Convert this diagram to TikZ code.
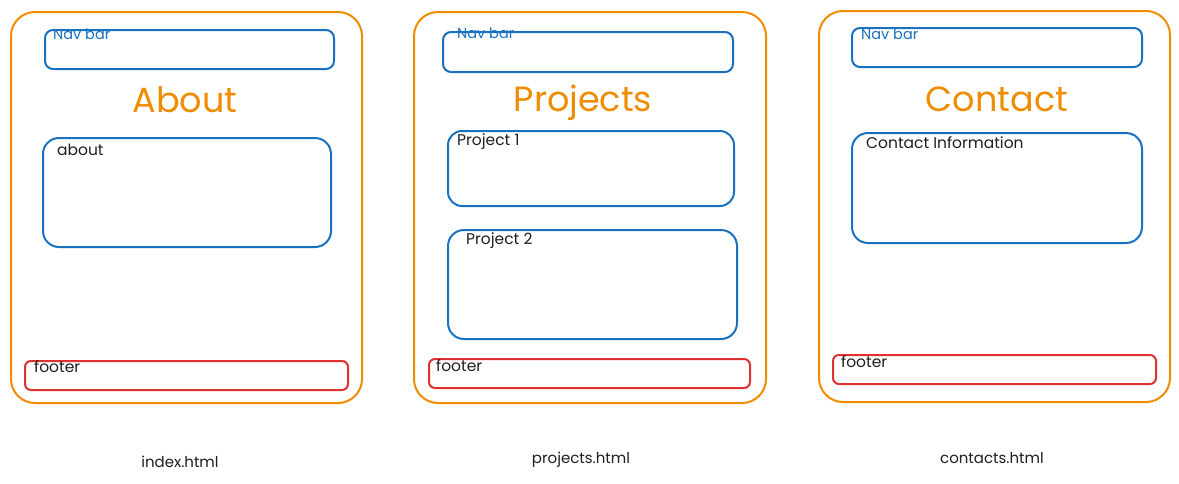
\documentclass[tikz,border=0pt]{standalone}
\usepackage{fontspec}
\setmainfont{Poppins}
\definecolor{sketchorange}{HTML}{F08C00}
\definecolor{sketchblue}{HTML}{1971C2}
\definecolor{sketchred}{HTML}{E03131}
\definecolor{ink}{HTML}{1E1E1E}
\begin{document}
\begin{tikzpicture}[x=1pt,y=-1pt,
  pageframe/.style={draw=sketchorange, line width=2pt, rounded corners=24pt, anchor=north west, inner sep=0pt},
  bluebox/.style={draw=sketchblue, line width=2pt, anchor=north west, inner sep=0pt},
  footbox/.style={draw=sketchred, line width=2pt, rounded corners=6pt, anchor=north west, inner sep=0pt},
  navtext/.style={text=sketchblue, font=\fontsize{14.5}{17}\selectfont, anchor=base west, inner sep=0pt},
  bodytext/.style={text=ink, font=\fontsize{15.5}{18}\selectfont, anchor=base west, inner sep=0pt},
  titletext/.style={text=sketchorange, font=\fontsize{35}{41}\selectfont, anchor=base, inner sep=0pt},
  filetext/.style={text=ink, font=\fontsize{15}{18}\selectfont, anchor=base, inner sep=0pt}]
\useasboundingbox (0,0) rectangle (1179,483);

% ---- index.html ----
\node[pageframe, minimum width=351pt, minimum height=391pt] (p1) at (10,11) {};
\node[bluebox, rounded corners=8pt, minimum width=289pt, minimum height=39pt] (nav1) at (44,29) {};
\node[navtext] (nav1t) at (53,39) {Nav bar};
\node[titletext] (t1) at (185,112) {About};
\node[bluebox, rounded corners=16pt, minimum width=288pt, minimum height=109pt] (about) at (42,137) {};
\node[bodytext] (aboutt) at (57,155) {about};
\node[footbox, minimum width=323pt, minimum height=29pt] (foot1) at (24,360) {};
\node[bodytext] (foot1t) at (34,372) {footer};
\node[filetext] (file1) at (180,467) {index.html};

% ---- projects.html ----
\node[pageframe, minimum width=352pt, minimum height=391pt] (p2) at (413,11) {};
\node[bluebox, rounded corners=8pt, minimum width=290pt, minimum height=40pt] (nav2) at (442,31) {};
\node[navtext] (nav2t) at (457,38) {Nav bar};
\node[titletext] (t2) at (583,111) {Projects};
\node[bluebox, rounded corners=14pt, minimum width=286pt, minimum height=75pt] (proj1) at (447,130) {};
\node[bodytext] (proj1t) at (457,145) {Project 1};
\node[bluebox, rounded corners=16pt, minimum width=289pt, minimum height=109pt] (proj2) at (447,229) {};
\node[bodytext] (proj2t) at (466,244) {Project 2};
\node[footbox, minimum width=321pt, minimum height=29pt] (foot2) at (428,358) {};
\node[bodytext] (foot2t) at (436,371) {footer};
\node[filetext] (file2) at (581,463) {projects.html};

% ---- contacts.html ----
\node[pageframe, minimum width=351pt, minimum height=391pt] (p3) at (818,10) {};
\node[bluebox, rounded corners=8pt, minimum width=290pt, minimum height=39pt] (nav3) at (851,27) {};
\node[navtext] (nav3t) at (861,39) {Nav bar};
\node[titletext] (t3) at (997,111) {Contact};
\node[bluebox, rounded corners=16pt, minimum width=290pt, minimum height=110pt] (info) at (851,132) {};
\node[bodytext] (infot) at (866,148) {Contact Information};
\node[footbox, minimum width=323pt, minimum height=29pt] (foot3) at (832,354) {};
\node[bodytext] (foot3t) at (841,367) {footer};
\node[filetext] (file3) at (992,463) {contacts.html};
\end{tikzpicture}
\end{document}
